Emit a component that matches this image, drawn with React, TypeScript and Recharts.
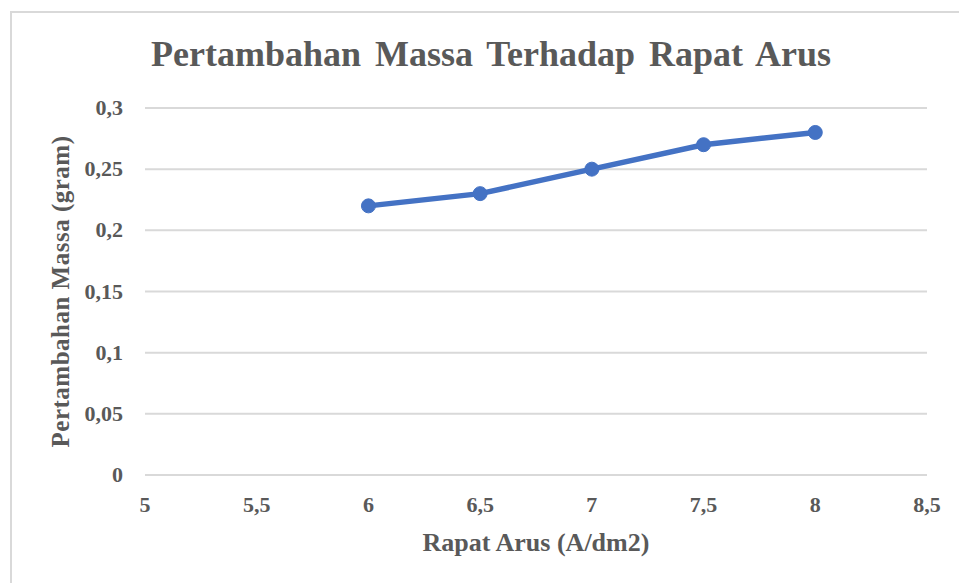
import React from "react";
import { LineChart, Line, XAxis, YAxis, CartesianGrid, Label } from "recharts";

const xValues = [6, 6.5, 7, 7.5, 8];
const massGain = [0.22, 0.23, 0.25, 0.27, 0.28];
const xTicks = [5, 5.5, 6, 6.5, 7, 7.5, 8, 8.5];
const yTicks = [0, 0.05, 0.1, 0.15, 0.2, 0.25, 0.3];

const data = xValues.map((x, i) => ({ x, y: massGain[i] }));

const FONT = '"Liberation Serif", "Times New Roman", serif';
const GRAY = "#595959";

const fmt = (v: number) => String(v).replace(".", ",");

const XTick = (props: any) => {
  const { x, y, payload } = props;
  return (
    <text x={x} y={y} dy={37} textAnchor="middle" fill={GRAY} fontFamily={FONT} fontWeight="bold" fontSize={22}>
      {fmt(payload.value)}
    </text>
  );
};

const YTick = (props: any) => {
  const { x, y, payload } = props;
  return (
    <text x={x} y={y} dy={7} textAnchor="end" fill={GRAY} fontFamily={FONT} fontWeight="bold" fontSize={22}>
      {fmt(payload.value)}
    </text>
  );
};

export default function App() {
  return (
    <div style={{ position: "absolute", left: 0, top: 0, width: 959, height: 583, background: "#fff", overflow: "hidden", fontFamily: FONT }}>
      <div
        style={{
          position: "absolute",
          left: 10,
          top: 11,
          width: 1000,
          height: 1000,
          border: "2px solid #d9d9d9",
          boxSizing: "border-box",
        }}
      />
      <div
        style={{
          position: "absolute",
          left: 0,
          top: 34,
          width: 982,
          textAlign: "center",
          fontFamily: FONT,
          fontWeight: "bold",
          fontSize: 36,
          lineHeight: "40px",
          color: GRAY,
          wordSpacing: 5,
          whiteSpace: "nowrap",
        }}
      >
        Pertambahan Massa Terhadap Rapat Arus
      </div>
      <div style={{ position: "absolute", left: 0, top: 0 }}>
        <LineChart
          width={959}
          height={583}
          data={data}
          margin={{ top: 108, right: 32, left: 85, bottom: 68 }}
        >
          <CartesianGrid horizontal vertical={false} stroke="#d9d9d9" strokeWidth={2} />
          <XAxis
            dataKey="x"
            type="number"
            domain={[5, 8.5]}
            ticks={xTicks}
            axisLine={{ stroke: "#d9d9d9", strokeWidth: 2 }}
            tickLine={false}
            tickSize={0}
            tickMargin={0}
            height={40}
            interval={0}
            tick={<XTick />}
          >
            <Label
              value="Rapat Arus (A/dm2)"
              position="insideBottom"
              offset={-36}
              style={{ fill: GRAY, fontFamily: FONT, fontWeight: "bold", fontSize: 26 }}
            />
          </XAxis>
          <YAxis
            type="number"
            domain={[0, 0.3]}
            ticks={yTicks}
            axisLine={false}
            tickLine={false}
            tickSize={0}
            tickMargin={0}
            width={60}
            interval={0}
            tick={(p: any) => <YTick {...p} x={145 - 22} />}
          >
            <Label
              value="Pertambahan Massa (gram)"
              angle={-90}
              position="insideLeft"
              offset={-25}
              style={{ textAnchor: "middle", fill: GRAY, fontFamily: FONT, fontWeight: "bold", fontSize: 25, letterSpacing: 0.5 }}
            />
          </YAxis>
          <Line
            type="linear"
            dataKey="y"
            stroke="#4472C4"
            strokeWidth={5.5}
            dot={{ r: 7, fill: "#4472C4", stroke: "#4472C4", strokeWidth: 1 }}
            isAnimationActive={false}
          />
        </LineChart>
      </div>
    </div>
  );
}
